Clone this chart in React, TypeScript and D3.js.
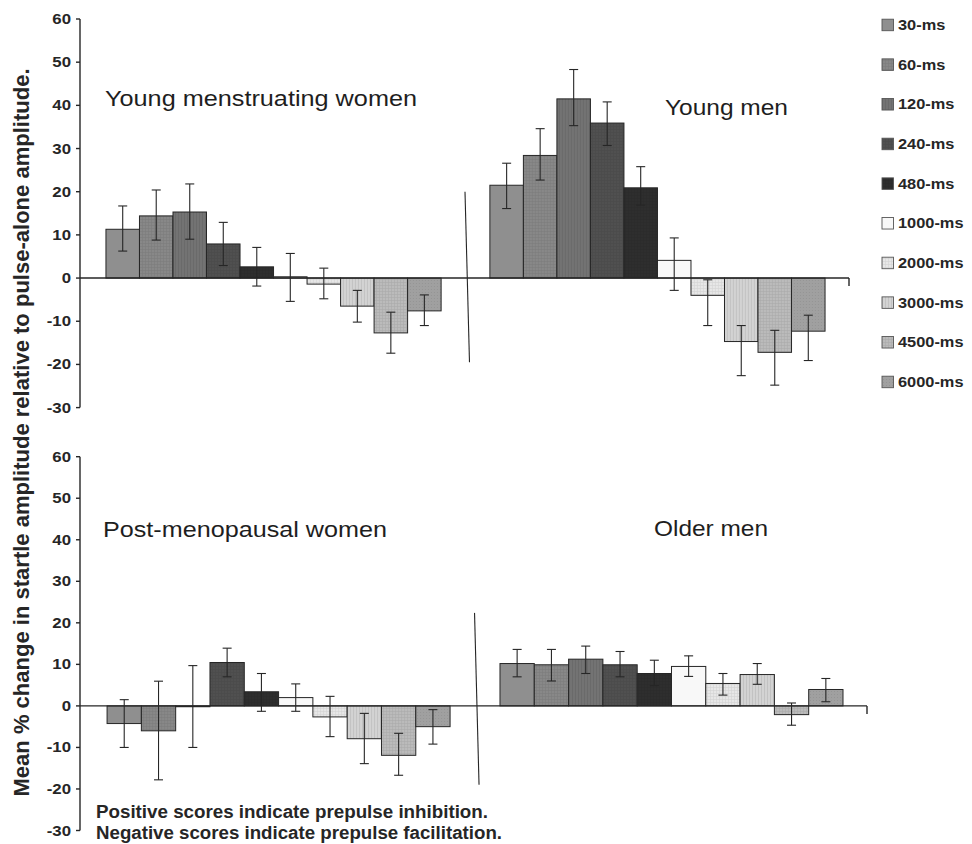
import React from "react";
import * as d3 from "d3";

// ---------- DATA ----------
const series = ["30-ms", "60-ms", "120-ms", "240-ms", "480-ms", "1000-ms", "2000-ms", "3000-ms", "4500-ms", "6000-ms"];
const yTicks = [60, 50, 40, 30, 20, 10, 0, -10, -20, -30];

const groupsTop = ["Young menstruating women", "Young men"];
const groupsBottom = ["Post-menopausal women", "Older men"];

const youngWomen = [11.3, 14.4, 15.3, 7.9, 2.6, 0.3, -1.4, -6.5, -12.7, -7.6];
const youngWomenHi = [16.7, 20.4, 21.8, 12.9, 7.1, 5.7, 2.3, -2.85, -7.9, -3.9];
const youngWomenLo = [6.25, 8.8, 9.0, 2.9, -1.85, -5.4, -4.8, -10.2, -17.4, -11.0];

const youngMen = [21.5, 28.4, 41.5, 35.9, 20.9, 4.1, -4.0, -14.7, -17.2, -12.3];
const youngMenHi = [26.6, 34.6, 48.3, 40.8, 25.8, 9.3, -0.4, -11.0, -12.1, -8.6];
const youngMenLo = [16.1, 22.7, 35.3, 30.7, 16.9, -2.85, -11.0, -22.6, -24.8, -19.1];

const postMenoWomen = [-4.25, -6.0, -0.2, 10.45, 3.4, 2.0, -2.65, -7.9, -11.9, -5.0];
const postMenoWomenHi = [1.5, 5.95, 9.7, 13.9, 7.8, 5.3, 2.3, -1.8, -6.6, -0.9];
const postMenoWomenLo = [-10.0, -17.8, -10.0, 7.0, -1.3, -1.3, -7.4, -13.9, -16.7, -9.2];

const olderMen = [10.2, 9.9, 11.25, 9.9, 7.8, 9.5, 5.4, 7.55, -2.1, 3.95];
const olderMenHi = [13.6, 13.6, 14.4, 13.1, 11.0, 12.05, 7.8, 10.2, 0.7, 6.6];
const olderMenLo = [7.0, 6.0, 7.8, 7.0, 4.9, 7.1, 2.6, 5.2, -4.65, 1.0];

const dividerTop = [20, -19.5];
const dividerBottom = [22.4, -19];

const yLabel = "Mean % change in startle amplitude relative to pulse-alone amplitude.";
const notes = ["Positive scores indicate prepulse inhibition.", "Negative scores indicate prepulse facilitation."];

// ---------- STYLE ----------
const seriesColors = ["#8f8f8f", "#888888", "#737373", "#505050", "#2e2e2e", "#f8f8f8", "#e7e7e7", "#d3d3d3", "#bbbbbb", "#a0a0a0"];
const seriesTextures = ["solid", "grid", "vert", "grid", "grid", "solid", "grid", "vert", "grid", "dots"];

const FONT = "'Liberation Sans', Arial, Helvetica, sans-serif";
const INK = "#262626";

const panels = [
  {
    key: "top",
    groups: groupsTop,
    values: [youngWomen, youngMen],
    hi: [youngWomenHi, youngMenHi],
    lo: [youngWomenLo, youngMenLo],
    divider: dividerTop,
    xRange: [80, 849],
    yRange: [407.6, 19],
    align: 0.52,
    titles: [
      { x: 105, y: 106, len: 312 },
      { x: 665, y: 115, len: 123 },
    ],
  },
  {
    key: "bottom",
    groups: groupsBottom,
    values: [postMenoWomen, olderMen],
    hi: [postMenoWomenHi, olderMenHi],
    lo: [postMenoWomenLo, olderMenLo],
    divider: dividerBottom,
    xRange: [80, 867],
    yRange: [830.5, 456.7],
    align: 0.53,
    titles: [
      { x: 103, y: 537, len: 284 },
      { x: 654, y: 536, len: 114 },
    ],
  },
];

function Patterns() {
  return (
    <defs>
      {series.map((s, i) => {
        const base = seriesColors[i];
        const dark = d3.color(base)!.darker(0.45).formatHex();
        const tex = seriesTextures[i];
        return (
          <pattern key={s} id={`pat-${i}`} patternUnits="userSpaceOnUse" width={3} height={3}>
            <rect width={3} height={3} fill={base} />
            {tex === "grid" && <path d="M0,0.5H3M0.5,0V3" stroke={dark} strokeWidth={0.6} opacity={0.6} />}
            {tex === "vert" && <path d="M0.5,0V3" stroke={dark} strokeWidth={0.8} opacity={0.7} />}
            {tex === "dots" && <rect x={1} y={1} width={1} height={1} fill={dark} opacity={0.5} />}
          </pattern>
        );
      })}
    </defs>
  );
}

function Panel({ p }: { p: (typeof panels)[number] }) {
  const y = d3.scaleLinear().domain([-30, 60]).range(p.yRange);
  const x0 = d3
    .scaleBand<string>()
    .domain(p.groups)
    .range(p.xRange as [number, number])
    .paddingInner(0.127)
    .paddingOuter(0.065)
    .align(p.align);
  const x1 = d3.scaleBand<string>().domain(series).range([0, x0.bandwidth()]).padding(0);
  const [xa, xb] = p.xRange;
  const y0 = y(0);
  const midX = (x0(p.groups[0])! + x0.bandwidth() + x0(p.groups[1])!) / 2;
  const cap = 4.5;

  return (
    <g>
      {p.groups.map((g, gi) => (
        <g key={g} transform={`translate(${x0(g)},0)`}>
          {series.map((s, i) => {
            const v = p.values[gi][i];
            const top = Math.min(y(v), y0);
            const h = Math.abs(y(v) - y0);
            return (
              <rect key={s} x={x1(s)} y={top} width={x1.bandwidth()} height={Math.max(h, 0.6)} fill={`url(#pat-${i})`} stroke={INK} strokeWidth={1} />
            );
          })}
        </g>
      ))}
      <line x1={xa} x2={xb} y1={y0} y2={y0} stroke={INK} strokeWidth={1.4} />
      <line x1={xb} x2={xb} y1={y0} y2={y0 + 8} stroke={INK} strokeWidth={1.4} />
      {p.groups.map((g, gi) => (
        <g key={g + "-err"} transform={`translate(${x0(g)},0)`}>
          {series.map((s, i) => {
            const cx = x1(s)! + x1.bandwidth() / 2;
            const yh = y(p.hi[gi][i]);
            const yl = y(p.lo[gi][i]);
            return (
              <g key={s} stroke={INK} strokeWidth={1.1}>
                <line x1={cx} x2={cx} y1={yh} y2={yl} />
                <line x1={cx - cap} x2={cx + cap} y1={yh} y2={yh} />
                <line x1={cx - cap} x2={cx + cap} y1={yl} y2={yl} />
              </g>
            );
          })}
        </g>
      ))}
      <line x1={midX - 0.5} x2={midX + 4} y1={y(p.divider[0])} y2={y(p.divider[1])} stroke={INK} strokeWidth={1.1} />
      <line x1={xa} x2={xa} y1={y(60)} y2={y(-30)} stroke={INK} strokeWidth={1.4} />
      {yTicks.map((t) => (
        <g key={t}>
          <line x1={xa - 4} x2={xa} y1={y(t)} y2={y(t)} stroke={INK} strokeWidth={1.4} />
          <text
            transform={`translate(${xa - 9},${y(t) + 5}) scale(1.2,1)`}
            textAnchor="end"
            fontFamily={FONT}
            fontWeight="bold"
            fontSize={14}
            fill={INK}
          >
            {t}
          </text>
        </g>
      ))}
      {p.groups.map((g, gi) => (
        <text
          key={g + "-t"}
          x={p.titles[gi].x}
          y={p.titles[gi].y}
          fontFamily={FONT}
          fontSize={22}
          fill="#1e1e1e"
          textLength={p.titles[gi].len}
          lengthAdjust="spacingAndGlyphs"
        >
          {g}
        </text>
      ))}
    </g>
  );
}

function Legend() {
  const ly = d3.scaleLinear().domain([0, series.length - 1]).range([25, 382]);
  return (
    <g>
      {series.map((s, i) => (
        <g key={s}>
          <rect x={882} y={ly(i) - 5.8} width={11.5} height={11.5} fill={`url(#pat-${i})`} stroke="#555" strokeWidth={0.9} />
          <text
            transform={`translate(898,${ly(i) + 5}) scale(1.17,1)`}
            fontFamily={FONT}
            fontWeight="bold"
            fontSize={14}
            fill={INK}
          >
            {s}
          </text>
        </g>
      ))}
    </g>
  );
}

export default function App() {
  return (
    <svg width={972} height={844} style={{ position: "absolute", left: 0, top: 0, background: "#fff" }}>
      <Patterns />
      <rect width={972} height={844} fill="#fff" />
      {panels.map((p) => (
        <Panel key={p.key} p={p} />
      ))}
      <Legend />
      <text
        transform="translate(28.5,432.5) rotate(-90)"
        textAnchor="middle"
        fontFamily={FONT}
        fontWeight="bold"
        fontSize={21.5}
        fill={INK}
        textLength={728}
        lengthAdjust="spacingAndGlyphs"
      >
        {yLabel}
      </text>
      {notes.map((n, i) => (
        <text
          key={n}
          x={96}
          y={818 + i * 21}
          fontFamily={FONT}
          fontWeight="bold"
          fontSize={17.5}
          fill={INK}
          textLength={i === 0 ? 392 : 406}
          lengthAdjust="spacingAndGlyphs"
        >
          {n}
        </text>
      ))}
    </svg>
  );
}
